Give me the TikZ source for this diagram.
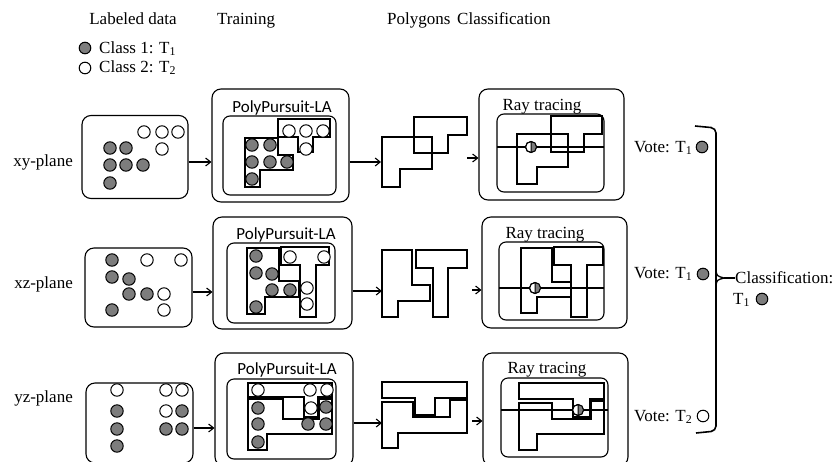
\documentclass[tikz,border=0pt]{standalone}
\usepackage{fontspec}
\usetikzlibrary{arrows.meta}
\setmainfont{Liberation Serif}
\newfontfamily\calibri{Carlito}
\definecolor{dotgray}{RGB}{125,125,125}
\begin{document}
\begin{tikzpicture}[x=1pt,y=-1pt,>={Straight Barb[length=5pt,width=8pt]}]
        \tikzstyle{every node}=[inner sep=0pt,font=\fontsize{17}{20}\selectfont];
        \tikzstyle{box}=[draw,rounded corners=9pt,line width=1.1pt];
        \tikzstyle{inbox}=[draw,rounded corners=7pt,line width=1.1pt];
        \tikzstyle{ppla}=[anchor=base,font=\calibri\fontsize{17}{20}\selectfont];
        \tikzstyle{poly}=[line width=1.9pt,line join=miter];
        \tikzstyle{ray}=[line width=1.1pt];
        \tikzstyle{cone}=[draw,line width=1pt,fill=dotgray];
        \tikzstyle{ctwo}=[draw,line width=1pt,fill=white];
        \tikzstyle{arr}=[->,line width=1.1pt];
        \useasboundingbox (0,0) rectangle (840,461);
        \clip (0,0) rectangle (840,461);
        % headings and legend
        \node[anchor=base] (hdata) at (133,24) {Labeled data};
        \node[anchor=base west] (htrain) at (217,24) {Training};
        \node[anchor=base west] (hpoly) at (387,24) {Polygons};
        \node[anchor=base west] (hclass) at (457,24) {Classification};
        \draw[cone] (85,48) circle (5.8);
        \node[anchor=base west] (lone) at (99,53) {Class 1: T\textsubscript{1}};
        \draw[ctwo] (85,68) circle (5.8);
        \node[anchor=base west] (ltwo) at (99,72) {Class 2: T\textsubscript{2}};
        % xy-plane
        \node[anchor=base east] (xylab) at (73,166) {xy-plane};
        \node[box,minimum width=106,minimum height=83] (xydata) at (135,157) {};
        \node[box,minimum width=137,minimum height=113] (xytrain) at (280.5,145.5) {};
        \node[inbox,minimum width=113,minimum height=79] (xytrin) at (279.5,155.5) {};
        \node[ppla] (xyppla) at (282,112) {PolyPursuit-LA};
        \node[box,minimum width=145,minimum height=111] (xyray) at (551.5,144.5) {};
        \node[inbox,minimum width=107,minimum height=78] (xyrain) at (550.5,153) {};
        \node[anchor=base] (xyrt) at (542,110) {Ray tracing};
        \coordinate (xyrow) at (0,162);
        \coordinate (xypin) at (381,162);
        \coordinate (xypout) at (467,158);
        \draw[arr] (xydata.east |- xyrow) -- (xytrain.west |- xyrow);
        \draw[arr] (xytrain.east |- xypin) -- (xypin);
        \draw[arr] (xypout) -- (xyray.west |- xypout);
        \draw[poly] (245,138)--(278,138)--(278,155)--(293,155)--(293,170)--(260,170)--(260,187)--(245,187)--cycle;
        \draw[poly] (278,119)--(330,119)--(330,137)--(313,137)--(313,152)--(298,152)--(298,137)--(278,137)--cycle;
        \draw[poly] (382,137)--(432,137)--(432,169)--(400,169)--(400,187)--(382,187)--cycle;
        \draw[poly] (414,117)--(467,117)--(467,135)--(448,135)--(448,153)--(414,153)--cycle;
        \draw[ray] (497,147) -- (604,147);
        \draw[poly] (517,134)--(568,134)--(568,167)--(537,167)--(537,184)--(517,184)--cycle;
        \draw[poly] (551,116)--(602,116)--(602,134)--(584,134)--(584,152)--(551,152)--cycle;
        \foreach \x/\y in {110/148,126/148,110/165,126/165,143/165,110/183,
                252/145,270/145,252/162,270/162,287/162,252/179}
            \draw[cone] (\x,\y) circle (6.2);
        \foreach \x/\y in {144/132,162/132,178/132,162/149,
                289/131,306/131,323/131,306/149}
            \draw[ctwo] (\x,\y) circle (6.2);
        \draw[ctwo] (531,147) circle (5.5);
        \fill[dotgray] (531,147) -- ++(0,-5.5) arc[start angle=-90,end angle=90,radius=5.5] -- cycle;
        \draw[line width=1pt] (531,147) circle (5.5) (531,141.5) -- (531,152.5);
        \node[anchor=base west] (xyvote) at (634,152) {Vote: T\textsubscript{1}};
        \draw[cone] (702,147) circle (5.8);
        % xz-plane
        \node[anchor=base east] (xzlab) at (73,288) {xz-plane};
        \node[box,minimum width=107,minimum height=79] (xzdata) at (138.5,287.5) {};
        \node[box,minimum width=139,minimum height=112] (xztrain) at (282.5,273) {};
        \node[inbox,minimum width=108,minimum height=80] (xztrin) at (281,283) {};
        \node[ppla] (xzppla) at (286,239) {PolyPursuit-LA};
        \node[box,minimum width=145,minimum height=111] (xzray) at (554.5,272.5) {};
        \node[inbox,minimum width=105,minimum height=78] (xzrain) at (551.5,281) {};
        \node[anchor=base] (xzrt) at (545,238) {Ray tracing};
        \coordinate (xzrow) at (0,292);
        \coordinate (xzpin) at (382,291);
        \coordinate (xzpout) at (472,290);
        \draw[arr] (xzdata.east |- xzrow) -- (xztrain.west |- xzrow);
        \draw[arr] (xztrain.east |- xzpin) -- (xzpin);
        \draw[arr] (xzpout) -- (xzray.west |- xzpout);
        \draw[poly] (247,248)--(279,248)--(279,281)--(299,281)--(299,297)--(265,297)--(265,314)--(247,314)--cycle;
        \draw[poly] (281,247)--(329,247)--(329,265)--(316,265)--(316,317)--(300,317)--(300,265)--(281,265)--cycle;
        \draw[poly] (382,250)--(412,250)--(412,285)--(430,285)--(430,301)--(398,301)--(398,317)--(382,317)--cycle;
        \draw[poly] (416,250)--(467,250)--(467,268)--(448,268)--(448,317)--(433,317)--(433,268)--(416,268)--cycle;
        \draw[ray] (499,288) -- (604,288);
        \draw[poly] (521,248)--(552,248)--(552,282)--(571,282)--(571,297)--(537,297)--(537,313)--(521,313)--cycle;
        \draw[poly] (554,247)--(603,247)--(603,265)--(587,265)--(587,317)--(571,317)--(571,265)--(554,265)--cycle;
        \foreach \x/\y in {112/260,112/277,129/279,129/294,147/294,112/310,
                256/256,256/273,272/274,272/290,290/290,256/307}
            \draw[cone] (\x,\y) circle (6.2);
        \foreach \x/\y in {147/260,181/260,164/294,164/310,
                290/257,324/257,307/288,307/304}
            \draw[ctwo] (\x,\y) circle (6.2);
        \draw[ctwo] (535,288) circle (5.5);
        \fill[dotgray] (535,288) -- ++(0,-5.5) arc[start angle=-90,end angle=90,radius=5.5] -- cycle;
        \draw[line width=1pt] (535,288) circle (5.5) (535,282.5) -- (535,293.5);
        \node[anchor=base west] (xzvote) at (634,278) {Vote: T\textsubscript{1}};
        \draw[cone] (703,274) circle (5.8);
        % yz-plane
        \node[anchor=base east] (yzlab) at (73,402) {yz-plane};
        \node[box,minimum width=107,minimum height=80] (yzdata) at (139.5,423) {};
        \node[box,minimum width=138,minimum height=113] (yztrain) at (284,409.5) {};
        \node[inbox,minimum width=109,minimum height=80] (yztrin) at (281.5,419) {};
        \node[ppla] (yzppla) at (287,374) {PolyPursuit-LA};
        \node[box,minimum width=145,minimum height=113] (yzray) at (555.5,409.5) {};
        \node[inbox,minimum width=107,minimum height=79] (yzrain) at (554.5,417.5) {};
        \node[anchor=base] (yzrt) at (547,373) {Ray tracing};
        \coordinate (yzrow) at (0,428);
        \coordinate (yzpin) at (382,423);
        \coordinate (yzpout) at (472,421);
        \draw[arr] (yzdata.east |- yzrow) -- (yztrain.west |- yzrow);
        \draw[arr] (yztrain.east |- yzpin) -- (yzpin);
        \draw[arr] (yzpout) -- (yzray.west |- yzpout);
        \draw[poly] (248,383)--(332,383)--(332,397)--(318,397)--(318,417)--(304,417)--(304,397)--(248,397)--cycle;
        \draw[poly] (248,399)--(283,399)--(283,419)--(319,419)--(319,399)--(332,399)--(332,434)--(267,434)--(267,450)--(248,450)--cycle;
        \draw[poly] (382,382)--(467,382)--(467,398)--(435,398)--(435,415)--(415,415)--(415,398)--(382,398)--cycle;
        \draw[poly] (382,402)--(413,402)--(413,417)--(450,417)--(450,400)--(467,400)--(467,433)--(398,433)--(398,448)--(382,448)--cycle;
        \draw[ray] (501,410) -- (608,410);
        \draw[poly] (519,383)--(604,383)--(604,399)--(590,399)--(590,417)--(573,417)--(573,399)--(519,399)--cycle;
        \draw[poly] (519,403)--(552,403)--(552,419)--(591,419)--(591,401)--(604,401)--(604,434)--(537,434)--(537,450)--(519,450)--cycle;
        \foreach \x/\y in {117/411,182/411,117/429,166/429,182/429,117/446,
                258/408,258/424,258/442,308/424,326/424,326/407}
            \draw[cone] (\x,\y) circle (6.2);
        \foreach \x/\y in {117/390,166/390,182/390,166/411,
                258/390,310/390,327/390,311/408}
            \draw[ctwo] (\x,\y) circle (6.2);
        \draw[ctwo] (578,410) circle (5.5);
        \fill[dotgray] (578,410) -- ++(0,-5.5) arc[start angle=-90,end angle=90,radius=5.5] -- cycle;
        \draw[line width=1pt] (578,410) circle (5.5) (578,404.5) -- (578,415.5);
        \node[anchor=base west] (yzvote) at (634,421) {Vote: T\textsubscript{2}};
        \draw[ctwo] (703,416) circle (5.8);
        % bracket and result
        \draw[line width=1.6pt,rounded corners=5pt] (695,126) -- (716,128) -- (716,431) -- (696,433);
        \coordinate (tip) at (724,278);
        \draw[line width=1.3pt] (716,271) .. controls (717,276) .. (tip) (716,285) .. controls (717,280) .. (tip);
        \node[anchor=west] (cls) at (735,278) {Classification:};
        \draw[line width=1.1pt] (tip) -- (cls.west);
        \node[anchor=base west] (clsres) at (733,304) {T\textsubscript{1}};
        \draw[cone] (762,299) circle (5.8);
\end{tikzpicture}
\end{document}
